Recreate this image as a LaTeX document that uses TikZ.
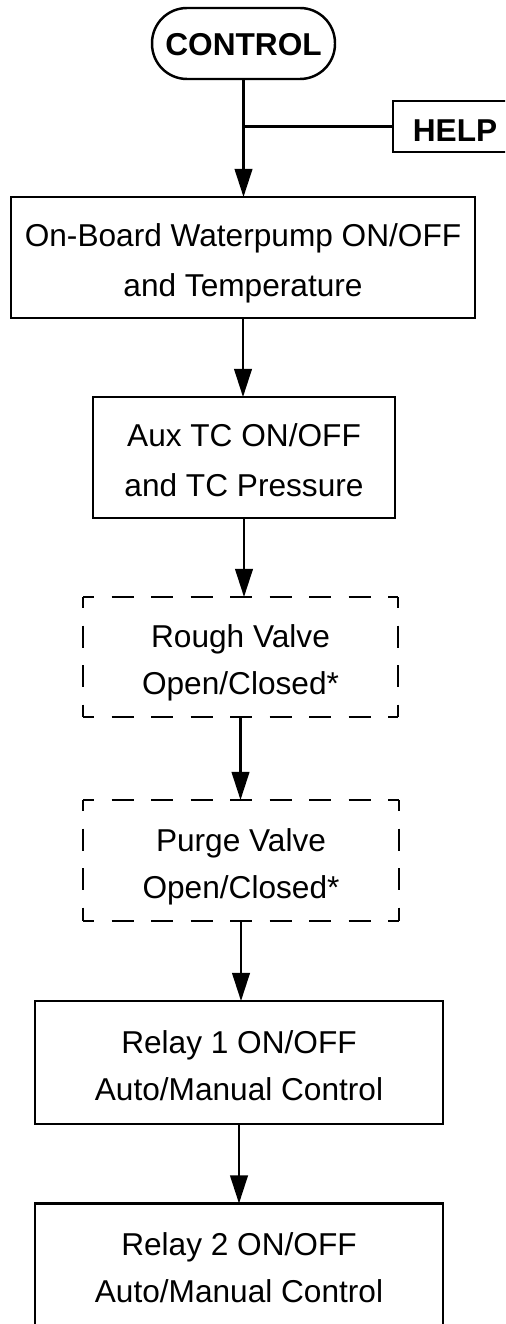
\documentclass[tikz,border=0pt]{standalone}
\usepackage{fontspec}
\setmainfont{Liberation Sans}
\usetikzlibrary{arrows.meta}
\newcommand{\lst}{\rule[-0.25em]{0pt}{1.407em}}
\begin{document}
\begin{tikzpicture}[x=0.02cm,y=-0.02cm,
  box/.style={draw, line width=1.4pt, rectangle, inner sep=0pt, outer sep=0pt, align=center},
  dbox/.style={rectangle, inner sep=0pt, outer sep=0pt, align=center},
  dsh/.style={line width=1.3pt, dash pattern=on 12.52pt off 9.96pt, dash phase=6.26pt},
  ln/.style={line width=1.3pt},
  arr/.style={ln, -{Triangle[length=16pt,width=10pt]}},
  fwide/.style={font=\fontsize{18pt}{28.45pt}\selectfont},
  fnarrow/.style={font=\fontsize{18pt}{26.75pt}\selectfont},
  fbold/.style={font=\fontsize{18pt}{28.45pt}\selectfont\bfseries},
]
\clip (0,0) rectangle (505,1324);

\node[box, fbold, rounded corners=0.7cm, minimum width=3.66cm, minimum height=1.42cm,
      text height=14.1pt, text depth=1pt] (ctl) at (243.5,43.5) {CONTROL};
\node[box, fbold, minimum width=2.48cm, minimum height=1.02cm,
      text height=18pt, text depth=0.7pt] (help) at (455,126.5) {HELP};

\node[box, fwide, minimum width=9.28cm, minimum height=2.42cm] (b1) at (243,257.5)
  {\lst On-Board Waterpump ON/OFF\\\lst and Temperature};
\node[box, fwide, minimum width=6.04cm, minimum height=2.42cm] (b2) at (244,457.5)
  {\lst Aux TC ON/OFF\\\lst and TC Pressure};
\node[dbox, fnarrow, minimum width=6.3cm, minimum height=2.4cm] (rough) at (240.5,657)
  {\lst Rough Valve\\\lst Open/Closed*};
\node[dbox, fnarrow, minimum width=6.32cm, minimum height=2.42cm] (purge) at (241,860.5)
  {\lst Purge Valve\\\lst Open/Closed*};
\node[box, fnarrow, minimum width=8.16cm, minimum height=2.46cm] (r1) at (239,1062.5)
  {\lst Relay 1 ON/OFF\\\lst Auto/Manual Control};
\node[box, fnarrow, minimum width=8.16cm, minimum height=2.46cm] (r2) at (239,1265)
  {\lst Relay 2 ON/OFF\\\lst Auto/Manual Control};

\foreach \n in {rough,purge}{
  \draw[dsh] (\n.north west) -- (\n.north east);
  \draw[dsh] (\n.south west) -- (\n.south east);
  \draw[dsh] (\n.north west) -- (\n.south west);
  \draw[dsh] (\n.north east) -- (\n.south east);
}

\draw[arr] (ctl.south) -- (ctl.south |- b1.north);
\draw[ln] (help.west) -- (help.west -| ctl.south);
\draw[arr] (b1.south) -- (b1.south |- b2.north);
\draw[arr] (b2.south) -- (b2.south |- rough.north);
\draw[arr] (rough.south) -- (rough.south |- purge.north);
\draw[arr] (purge.south) -- (purge.south |- r1.north);
\draw[arr] (r1.south) -- (r1.south |- r2.north);
\end{tikzpicture}
\end{document}
